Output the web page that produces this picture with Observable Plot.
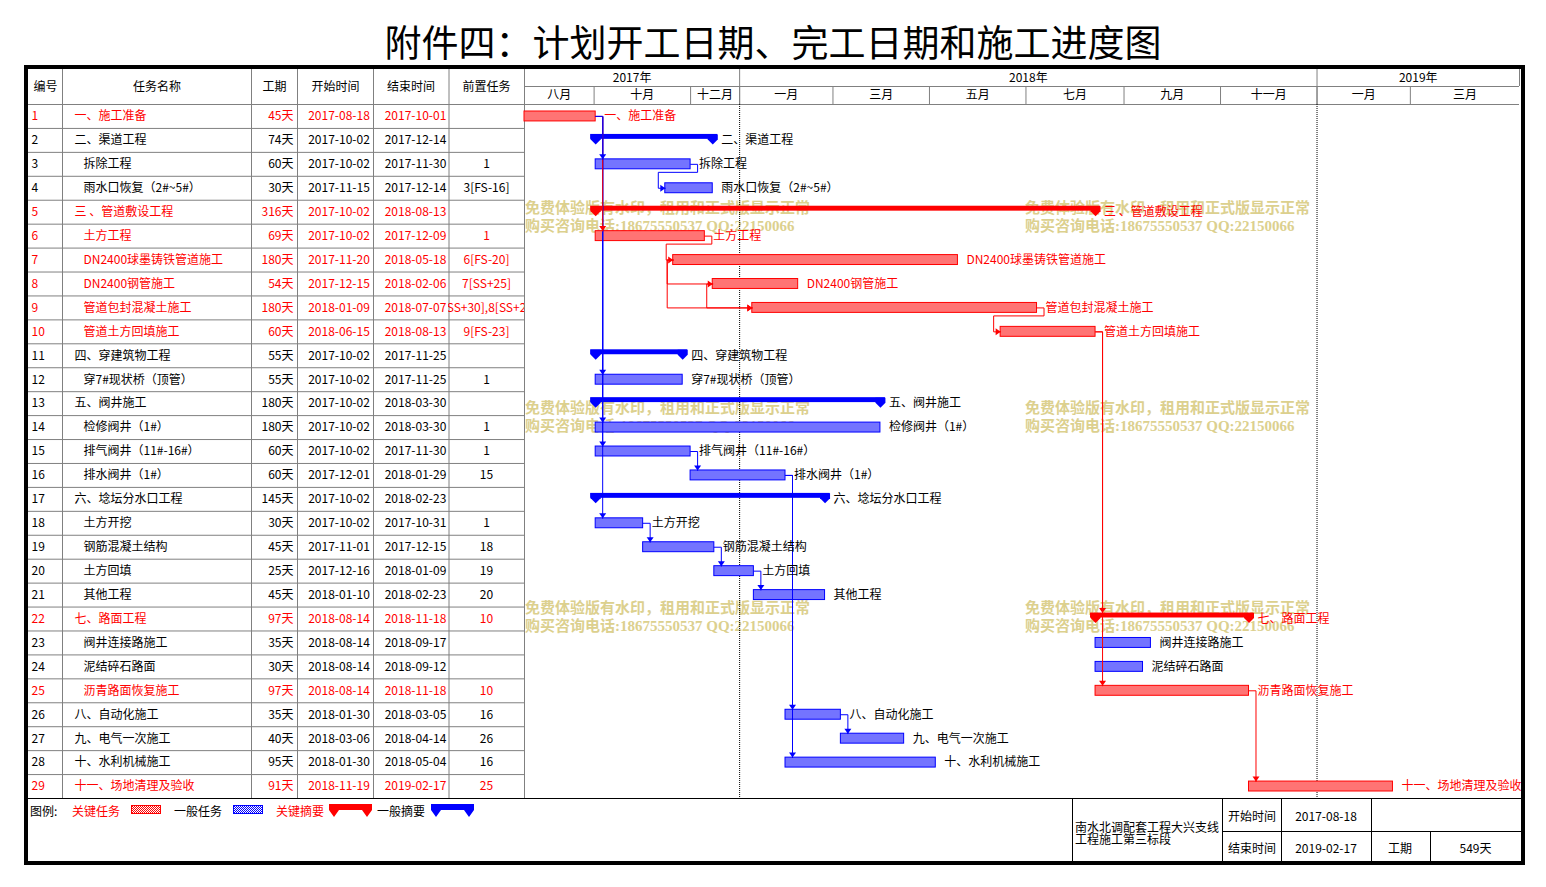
<!DOCTYPE html>
<html><head><meta charset="utf-8">
<script src="https://cdn.jsdelivr.net/npm/d3@7"></script>
<script src="https://cdn.jsdelivr.net/npm/@observablehq/plot@0.6"></script>
<style>
body{margin:0;background:#fff;font-family:"Noto Sans CJK SC","Noto Sans",sans-serif;}
#page{position:relative;width:1546px;height:887px;overflow:hidden;background:#fff;}
.abs{position:absolute;}
.abs svg{max-width:none !important;}
#title{left:0;top:16px;width:1546px;text-align:center;font-size:37px;line-height:50px;color:#000;}
.wm{font-family:"Liberation Serif","Noto Sans CJK SC",serif;font-weight:bold;font-size:15px;line-height:18px;color:#DCD08E;white-space:nowrap;}
#frame{left:24px;top:65px;width:1501px;height:800px;box-sizing:border-box;border:4px solid #000;pointer-events:none;}
#sep{left:28px;top:798px;width:1493px;height:0;border-top:1px solid #000;}
</style></head>
<body><div id="page"><div id="title" class="abs"></div></div>
<script>
// ---------------- data ----------------
const titleText = "附件四：计划开工日期、完工日期和施工进度图";
const ids = d3.range(1, 30);
const names = ["一、施工准备","二、渠道工程","拆除工程","雨水口恢复（2#~5#）","三 、管道敷设工程","土方工程","DN2400球墨铸铁管道施工","DN2400钢管施工","管道包封混凝土施工","管道土方回填施工","四、穿建筑物工程","穿7#现状桥（顶管）","五、阀井施工","检修阀井（1#）","排气阀井（11#-16#）","排水阀井（1#）","六、埝坛分水口工程","土方开挖","钢筋混凝土结构","土方回填","其他工程","七、路面工程","阀井连接路施工","泥结碎石路面","沥青路面恢复施工","八、自动化施工","九、电气一次施工","十、水利机械施工","十一、场地清理及验收"];
const levels = [1,1,2,2,1,2,2,2,2,2,1,2,1,2,2,2,1,2,2,2,2,1,2,2,2,1,1,1,1];
const durations = [45,74,60,30,316,69,180,54,180,60,55,55,180,180,60,60,145,30,45,25,45,97,35,30,97,35,40,95,91];
const starts = ["2017-08-18","2017-10-02","2017-10-02","2017-11-15","2017-10-02","2017-10-02","2017-11-20","2017-12-15","2018-01-09","2018-06-15","2017-10-02","2017-10-02","2017-10-02","2017-10-02","2017-10-02","2017-12-01","2017-10-02","2017-10-02","2017-11-01","2017-12-16","2018-01-10","2018-08-14","2018-08-14","2018-08-14","2018-08-14","2018-01-30","2018-03-06","2018-01-30","2018-11-19"];
const ends = ["2017-10-01","2017-12-14","2017-11-30","2017-12-14","2018-08-13","2017-12-09","2018-05-18","2018-02-06","2018-07-07","2018-08-13","2017-11-25","2017-11-25","2018-03-30","2018-03-30","2017-11-30","2018-01-29","2018-02-23","2017-10-31","2017-12-15","2018-01-09","2018-02-23","2018-11-18","2018-09-17","2018-09-12","2018-11-18","2018-03-05","2018-04-14","2018-05-04","2019-02-17"];
const preds = ["","","1","3[FS-16]","","1","6[FS-20]","7[SS+25]","7[SS+30],8[SS+25]","9[FS-23]","","1","","1","1","15","","1","18","19","20","10","","","10","16","26","16","25"];
const criticalIds = [1,5,6,7,8,9,10,22,25,29];
const summaryIds = [2,5,11,13,17,22];
const headers = ["编号","任务名称","工期","开始时间","结束时间","前置任务"];
const domainStart = "2017-08-18", domainEnd = "2019-05-09";
const yearLabels = ["2017年","2018年","2019年"];
const yearStarts = ["2017-08-18","2018-01-01","2019-01-01"];
const monthLabels = ["八月","十月","十二月","一月","三月","五月","七月","九月","十一月","一月","三月"];
const monthStarts = ["2017-08-18","2017-10-01","2017-12-01","2018-01-01","2018-03-01","2018-05-01","2018-07-01","2018-09-01","2018-11-01","2019-01-01","2019-03-01"];
const legendLabels = ["图例:","关键任务","一般任务","关键摘要","一般摘要"];
const projectLines = ["南水北调配套工程大兴支线","工程施工第三标段"];
const footerLabels = ["开始时间","结束时间","工期"];
const projectStart = "2017-08-18", projectEnd = "2019-02-17", projectDays = "549天";
const watermarkLines = ["免费体验版有水印，租用和正式版显示正常","购买咨询电话:18675550537 QQ:22150066"];

// ---------------- style / layout ----------------
const RED = "#FF0000", BLUE = "#0000FF", GREY = "#808080", BLACK = "#000000";
const RED_FILL = "#FF7474", BLUE_FILL = "#7474FF";
const FONT = '"Noto Sans CJK SC","Noto Sans",sans-serif';
const L = {topY:69, plotH:729, rowH:23.93, hdr:35, yearRow:17, tableX:28, tableW:420, predX:448, predW:76, ganttX:524, ganttW:997, ganttRange:995};
const colBounds = [28, 62, 251, 297, 373, 448, 524];
const colX = {num:31, name1:74, name2:83, dur:293, start:338.5, end:415, pred:486};

const page = document.getElementById("page");
document.getElementById("title").textContent = titleText;

const parse = d3.utcParse("%Y-%m-%d");
const d0 = parse(domainStart), d1 = parse(domainEnd);
const tasks = ids.map((id, i) => {
  const crit = criticalIds.includes(id);
  return {id, name: names[i], level: levels[i], dur: durations[i] + "天", startS: starts[i], endS: ends[i], pred: preds[i],
    start: parse(starts[i]), endX: d3.utcDay.offset(parse(ends[i]), 1), crit, summary: summaryIds.includes(id),
    color: crit ? RED : BLUE, textColor: crit ? RED : BLACK, yc: id - 0.5};
});
const yTop = -L.hdr / L.rowH, yMid = -(L.hdr - L.yearRow) / L.rowH;
const yOpt = () => ({domain: [yTop, 29], range: [0, L.plotH], axis: null});
const svgStyle = (ov) => ({background: "transparent", overflow: ov, fontFamily: FONT, fontSize: "12px", maxWidth: "none"});
function place(node, left, top, w) {
  const d = document.createElement("div");
  d.className = "abs"; d.style.left = left + "px"; d.style.top = top + "px"; d.style.width = w + "px";
  d.appendChild(node); page.appendChild(d);
}
function addPatterns(svgNode, suffix) {
  const defs = d3.select(svgNode).insert("defs", ":first-child");
  for (const [id, c] of [["patR", RED], ["patB", BLUE]]) {
    const p = defs.append("pattern").attr("id", id + suffix).attr("width", 2).attr("height", 2).attr("patternUnits", "userSpaceOnUse");
    p.append("rect").attr("width", 2).attr("height", 2).attr("fill", "#FFFFFF");
    p.append("rect").attr("width", 1).attr("height", 1).attr("fill", c);
    p.append("rect").attr("x", 1).attr("y", 1).attr("width", 1).attr("height", 1).attr("fill", c);
  }
}

// ---------------- watermarks (behind chart) ----------------
for (const top of [199, 399, 599]) for (const left of [525, 1025]) {
  const div = document.createElement("div");
  div.className = "abs wm"; div.style.left = left + "px"; div.style.top = top + "px";
  div.innerHTML = watermarkLines.map(s => `<div>${s}</div>`).join("");
  page.appendChild(div);
}

// ---------------- table (first five columns) ----------------
const tablePlot = Plot.plot({
  width: L.tableW, height: L.plotH, margin: 0,
  x: {domain: [L.tableX, L.tableX + L.tableW], range: [0, L.tableW], axis: null},
  y: yOpt(), color: {type: "identity"}, style: svgStyle("visible"),
  marks: [
    Plot.ruleY(d3.range(0, 29), {y: d => d, x1: colBounds[0], x2: colBounds[5], stroke: GREY}),
    Plot.ruleX(colBounds.slice(1, 5), {x: d => d, y1: yTop, y2: 29, stroke: GREY}),
    Plot.text(headers.slice(0, 5), {x: (d, i) => (colBounds[i] + colBounds[i + 1]) / 2, y: yTop / 2, text: d => d, fill: BLACK, fontSize: 12}),
    Plot.text(tasks, {x: colX.num, y: "yc", text: d => String(d.id), textAnchor: "start", fill: "textColor", fontSize: 12}),
    Plot.text(tasks, {x: d => d.level === 1 ? colX.name1 : colX.name2, y: "yc", text: "name", textAnchor: "start", fill: "textColor", fontSize: 12}),
    Plot.text(tasks, {x: colX.dur, y: "yc", text: "dur", textAnchor: "end", fill: "textColor", fontSize: 12}),
    Plot.text(tasks, {x: colX.start, y: "yc", text: "startS", fill: "textColor", fontSize: 12}),
    Plot.text(tasks, {x: colX.end, y: "yc", text: "endS", fill: "textColor", fontSize: 12})
  ]
});
place(tablePlot, L.tableX, L.topY, L.tableW);

// predecessor column: its own clipped plot so long text is cut at the cell edges
const predPlot = Plot.plot({
  width: L.predW, height: L.plotH, margin: 0,
  x: {domain: [L.predX, L.predX + L.predW], range: [0, L.predW], axis: null},
  y: yOpt(), color: {type: "identity"}, style: svgStyle("hidden"),
  marks: [
    Plot.ruleY(d3.range(0, 29), {y: d => d, x1: colBounds[5], x2: colBounds[6], stroke: GREY}),
    Plot.ruleX([colBounds[5]], {x: d => d, y1: yTop, y2: 29, stroke: GREY, dx: 0.5}),
    Plot.text([headers[5]], {x: (colBounds[5] + colBounds[6]) / 2, y: yTop / 2, text: d => d, fill: BLACK, fontSize: 12}),
    Plot.text(tasks, {x: colX.pred, y: "yc", text: "pred", fill: "textColor", fontSize: 12})
  ]
});
place(predPlot, L.predX, L.topY, L.predW);

// ---------------- gantt ----------------
const ppd = L.ganttRange / d3.utcDay.count(d0, d1);
const off = (date, px) => new Date(+date + px / ppd * 864e5);
const mkCells = (labels, st) => labels.map((label, i) => {
  const start = parse(st[i]), end = i + 1 < labels.length ? parse(st[i + 1]) : d1;
  return {label, start, end, mid: new Date((+start + +end) / 2)};
});
const yearCells = mkCells(yearLabels, yearStarts);
const monthCells = mkCells(monthLabels, monthStarts);

const links = [];
tasks.forEach(t => {
  if (!t.pred) return;
  t.pred.split(",").forEach(s => {
    const m = s.match(/^(\d+)(?:\[(FS|SS)([+-]\d+)\])?$/);
    if (m) links.push({from: +m[1], to: t.id, type: m[2] || "FS"});
  });
});
function linkGeom(l) {
  const p = tasks[l.from - 1], s = tasks[l.to - 1];
  const color = p.crit && s.crit ? RED : BLUE;
  const sTop = s.yc - (s.summary ? 6 : 5) / L.rowH;
  if (l.type === "SS") {
    const xv = off(p.start, -6);
    return {color, pts: [[p.start, p.yc], [xv, p.yc], [xv, s.yc], [s.start, s.yc]], arrow: {x: s.start, y: s.yc, dir: "right"}};
  }
  const xe = off(p.endX, 7);
  if (+s.start >= +p.endX) return {color, pts: [[p.endX, p.yc], [xe, p.yc], [xe, sTop]], arrow: {x: xe, y: sTop, dir: "down"}};
  const yb = p.yc + 8 / L.rowH, xs = off(s.start, -7);
  return {color, pts: [[p.endX, p.yc], [xe, p.yc], [xe, yb], [xs, yb], [xs, s.yc], [s.start, s.yc]], arrow: {x: s.start, y: s.yc, dir: "right"}};
}
const arrowDown = {draw(c) { c.moveTo(0, 0); c.lineTo(-3.5, -5); c.lineTo(3.5, -5); c.closePath(); }};
const arrowRight = {draw(c) { c.moveTo(0, 0); c.lineTo(-5, -3.5); c.lineTo(-5, 3.5); c.closePath(); }};
const sumEnd = {draw(c) { c.moveTo(-5, -6); c.lineTo(5, -6); c.lineTo(5, -1); c.lineTo(0, 4); c.lineTo(-5, -1); c.closePath(); }};

const linkMarks = links.slice().sort((a, b) => b.to - a.to || b.from - a.from).flatMap(l => {
  const g = linkGeom(l);
  return [
    Plot.line(g.pts, {x: d => d[0], y: d => d[1], stroke: g.color, strokeWidth: 1}),
    Plot.dot([g.arrow], {x: "x", y: "y", symbol: g.arrow.dir === "down" ? arrowDown : arrowRight, fill: g.color, stroke: "none"})
  ];
});
const plain = tasks.filter(t => !t.summary);
const sums = tasks.filter(t => t.summary);
const sumEnds = sums.flatMap(t => [{x: t.start, y: t.yc, color: t.color}, {x: t.endX, y: t.yc, color: t.color}]);

const gantt = Plot.plot({
  width: L.ganttW, height: L.plotH, margin: 0,
  x: {type: "utc", domain: [d0, d1], range: [0, L.ganttRange], axis: null},
  y: yOpt(), color: {type: "identity"}, style: svgStyle("visible"),
  marks: [
    Plot.ruleY([yMid, 0], {y: d => d, x1: d0, x2: d1, stroke: GREY}),
    Plot.ruleX([d0], {x: d => d, y1: yTop, y2: 29, stroke: GREY}),
    Plot.ruleX(monthCells.slice(1), {x: "start", y1: yMid, y2: 0, stroke: GREY}),
    Plot.ruleX(yearCells.slice(1), {x: "start", y1: yTop, y2: 0, stroke: GREY}),
    Plot.ruleX([d1], {x: d => d, y1: yTop, y2: yMid, stroke: GREY}),
    Plot.text(yearCells, {x: "mid", y: (yTop + yMid) / 2, text: "label", fill: BLACK, fontSize: 12}),
    Plot.text(monthCells, {x: "mid", y: yMid / 2, text: "label", fill: BLACK, fontSize: 12}),
    Plot.ruleX(yearCells.slice(1), {x: "start", y1: 0, y2: 29, stroke: BLACK, strokeDasharray: "1,1"}),
    Plot.rect(plain, {x1: "start", x2: "endX", y1: d => d.id - 1, y2: "id", insetTop: 7, insetBottom: 7, fill: d => d.crit ? RED_FILL : BLUE_FILL, stroke: "color", strokeWidth: 1}),
    Plot.rect(sums, {x1: "start", x2: "endX", y1: d => d.id - 1, y2: "id", insetTop: 6, insetBottom: 13, insetLeft: -5, insetRight: -5, fill: "color"}),
    Plot.dot(sumEnds, {x: "x", y: "y", symbol: sumEnd, fill: "color", stroke: "none"}),
    ...linkMarks,
    Plot.text(tasks, {x: "endX", y: "yc", text: "name", textAnchor: "start", dx: 8.5, fill: "textColor", fontSize: 12})
  ]
});
place(gantt, L.ganttX, L.topY, L.ganttW);

// ---------------- bottom section ----------------
const sep = document.createElement("div"); sep.id = "sep"; sep.className = "abs"; page.appendChild(sep);

// legend
const leg = d3.create("svg").attr("width", 470).attr("height", 30)
  .style("position", "absolute").style("left", "28px").style("top", "798px").style("overflow", "visible")
  .style("font-family", FONT).style("font-size", "12px");
addPatterns(leg.node(), "l");
const legText = [[2, BLACK], [44, RED], [146, BLACK], [248, RED], [349, BLACK]];
legendLabels.forEach((t, i) => leg.append("text").attr("x", legText[i][0]).attr("y", 12).attr("dominant-baseline", "central").attr("fill", legText[i][1]).text(t));
leg.append("rect").attr("x", 103.5).attr("y", 7.5).attr("width", 29).attr("height", 8).attr("fill", "url(#patRl)").attr("stroke", RED);
leg.append("rect").attr("x", 205.5).attr("y", 7.5).attr("width", 29).attr("height", 8).attr("fill", "url(#patBl)").attr("stroke", BLUE);
const sumPath = (a, b) => `M${a},6H${b}V12L${b - 5},19L${b - 10},12H${a + 10}L${a + 5},19L${a},12Z`;
leg.append("path").attr("d", sumPath(301, 344)).attr("fill", RED);
leg.append("path").attr("d", sumPath(403, 446)).attr("fill", BLUE);
page.appendChild(leg.node());

// footer box
const ft = d3.create("svg").attr("width", 461).attr("height", 63)
  .style("position", "absolute").style("left", "1060px").style("top", "798px")
  .style("font-family", FONT).style("font-size", "12px");
for (const x of [12, 162, 221, 311]) ft.append("line").attr("x1", x + 0.5).attr("x2", x + 0.5).attr("y1", 0).attr("y2", 63).attr("stroke", BLACK);
ft.append("line").attr("x1", 370.5).attr("x2", 370.5).attr("y1", 33).attr("y2", 63).attr("stroke", BLACK);
ft.append("line").attr("x1", 162).attr("x2", 461).attr("y1", 33.5).attr("y2", 33.5).attr("stroke", BLACK);
projectLines.forEach((t, i) => ft.append("text").attr("x", 15).attr("y", 28 + i * 12).attr("dominant-baseline", "central").text(t));
ft.append("text").attr("x", 168).attr("y", 17).attr("dominant-baseline", "central").text(footerLabels[0]);
ft.append("text").attr("x", 168).attr("y", 49).attr("dominant-baseline", "central").text(footerLabels[1]);
ft.append("text").attr("x", 266).attr("y", 17).attr("text-anchor", "middle").attr("dominant-baseline", "central").text(projectStart);
ft.append("text").attr("x", 266).attr("y", 49).attr("text-anchor", "middle").attr("dominant-baseline", "central").text(projectEnd);
ft.append("text").attr("x", 340).attr("y", 49).attr("text-anchor", "middle").attr("dominant-baseline", "central").text(footerLabels[2]);
ft.append("text").attr("x", 415.5).attr("y", 49).attr("text-anchor", "middle").attr("dominant-baseline", "central").text(projectDays);
page.appendChild(ft.node());

// outer frame on top
const frame = document.createElement("div"); frame.id = "frame"; frame.className = "abs"; page.appendChild(frame);
</script></body></html>
